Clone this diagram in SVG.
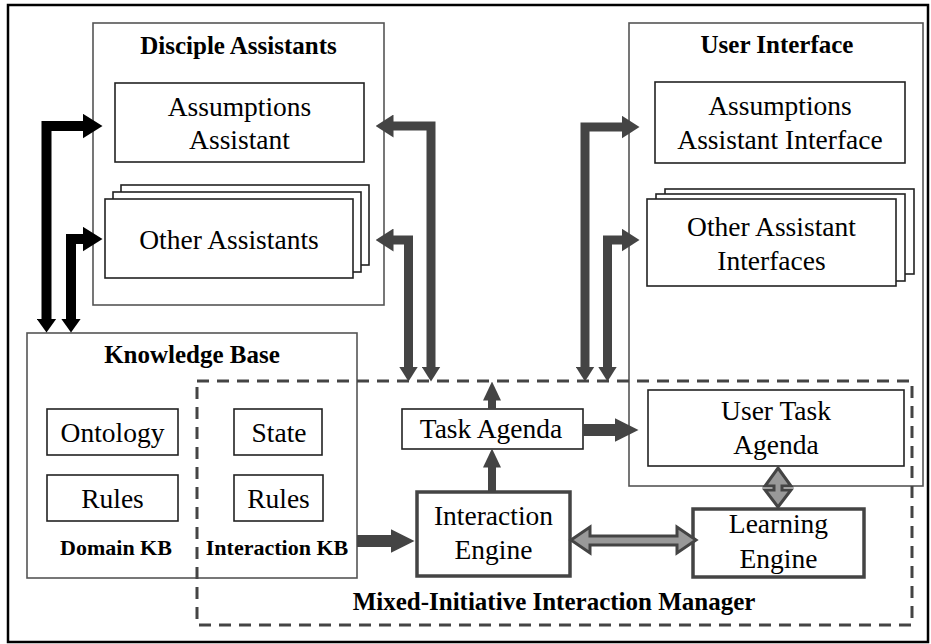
<svg xmlns="http://www.w3.org/2000/svg" width="931" height="644" viewBox="0 0 931 644">
<style>
.t{font-family:"Liberation Serif","Times New Roman",serif;font-size:27.5px;fill:#000;text-anchor:middle}
.b{font-family:"Liberation Serif","Times New Roman",serif;font-size:25px;font-weight:bold;fill:#000;text-anchor:middle}
.bs{font-family:"Liberation Serif","Times New Roman",serif;font-size:22px;font-weight:bold;fill:#000;text-anchor:middle}
.cont{fill:none;stroke:#555;stroke-width:1.6}
.box{fill:#fff;stroke:#222;stroke-width:1.6}
.eng{fill:#fff;stroke:#444;stroke-width:3.5}
.dash{fill:none;stroke:#444;stroke-width:3;stroke-dasharray:12 8}
.ab{fill:none;stroke:#000;stroke-width:10;stroke-linejoin:miter}
.ag{fill:none;stroke:#444;stroke-width:9;stroke-linejoin:miter}
.ag12{fill:none;stroke:#444;stroke-width:12}
.ag8{fill:none;stroke:#444;stroke-width:8}
.dbl{fill:#999;stroke:#444;stroke-width:3;stroke-linejoin:miter}
</style>
<defs>
<marker id="hbBig" markerUnits="userSpaceOnUse" viewBox="0 0 20 25" refX="0.5" refY="12.5" markerWidth="20" markerHeight="25" orient="auto-start-reverse"><path d="M0,0 L20,12.5 L0,25 Z" fill="#000"/></marker>
<marker id="hbSm" markerUnits="userSpaceOnUse" viewBox="0 0 14 20" refX="0.5" refY="10" markerWidth="14" markerHeight="20" orient="auto-start-reverse"><path d="M0,0 L14,10 L0,20 Z" fill="#000"/></marker>
<marker id="hgBig" markerUnits="userSpaceOnUse" viewBox="0 0 18 23" refX="0.5" refY="11.5" markerWidth="18" markerHeight="23" orient="auto-start-reverse"><path d="M0,0 L18,11.5 L0,23 Z" fill="#444"/></marker>
<marker id="hgSm" markerUnits="userSpaceOnUse" viewBox="0 0 15 19" refX="0.5" refY="9.5" markerWidth="15" markerHeight="19" orient="auto-start-reverse"><path d="M0,0 L15,9.5 L0,19 Z" fill="#444"/></marker>
<marker id="hgWide" markerUnits="userSpaceOnUse" viewBox="0 0 24 24" refX="0.5" refY="12" markerWidth="24" markerHeight="24" orient="auto-start-reverse"><path d="M0,0 L24,12 L0,24 Z" fill="#444"/></marker>
<marker id="hgUp" markerUnits="userSpaceOnUse" viewBox="0 0 19 18" refX="0.5" refY="9" markerWidth="19" markerHeight="18" orient="auto-start-reverse"><path d="M0,0 L19,9 L0,18 Z" fill="#444"/></marker>
</defs>

<rect x="8" y="5" width="920" height="637" fill="#fff" stroke="#000" stroke-width="2.5"/>

<g id="disciple-assistants">
<rect class="cont" x="93" y="23" width="291" height="282"/>
<text class="b" x="238.5" y="54">Disciple Assistants</text>
</g>
<g id="user-interface">
<rect class="cont" x="629" y="23" width="294" height="463"/>
<text class="b" x="777" y="53">User Interface</text>
</g>
<g id="knowledge-base">
<rect class="cont" x="27" y="333" width="330" height="245" stroke="#444"/>
<text class="b" x="192" y="363">Knowledge Base</text>
<text class="bs" x="116" y="555">Domain KB</text>
<text class="bs" x="277" y="555">Interaction KB</text>
</g>
<g id="interaction-manager">
<rect class="dash" x="197" y="381" width="715" height="244"/>
<text class="b" x="554" y="610">Mixed-Initiative Interaction Manager</text>
</g>

<g id="assumptions-assistant">
<rect class="box" x="115" y="83" width="249" height="79"/>
<text class="t" x="239.5" y="116">Assumptions</text>
<text class="t" x="239.5" y="149">Assistant</text>
</g>
<g id="other-assistants">
<rect class="box" x="121" y="185" width="248" height="80"/>
<rect class="box" x="113" y="192" width="248" height="80"/>
<rect class="box" x="105" y="199" width="248" height="79"/>
<text class="t" x="229" y="249">Other Assistants</text>
</g>
<g id="assumptions-assistant-interface">
<rect class="box" x="655" y="82" width="250" height="81"/>
<text class="t" x="780" y="115">Assumptions</text>
<text class="t" x="780" y="149">Assistant Interface</text>
</g>
<g id="other-assistant-interfaces">
<rect class="box" x="665" y="189" width="249" height="85"/>
<rect class="box" x="656" y="194" width="249" height="87"/>
<rect class="box" x="647" y="199" width="249" height="87"/>
<text class="t" x="771.5" y="236">Other Assistant</text>
<text class="t" x="771.5" y="270">Interfaces</text>
</g>
<g id="ontology">
<rect class="box" x="47" y="409" width="131" height="46"/>
<text class="t" x="112.5" y="442">Ontology</text>
</g>
<g id="domain-rules">
<rect class="box" x="47" y="475" width="131" height="46"/>
<text class="t" x="112.5" y="508">Rules</text>
</g>
<g id="state">
<rect class="box" x="234" y="409" width="88" height="46"/>
<text class="t" x="279" y="442">State</text>
</g>
<g id="interaction-rules">
<rect class="box" x="234" y="475" width="89" height="46"/>
<text class="t" x="278.5" y="508">Rules</text>
</g>
<g id="task-agenda">
<rect class="box" x="402" y="409" width="181" height="40"/>
<text class="t" x="491" y="438">Task Agenda</text>
</g>
<g id="user-task-agenda">
<rect class="box" x="648" y="390" width="256" height="76"/>
<text class="t" x="776" y="420">User Task</text>
<text class="t" x="776" y="454">Agenda</text>
</g>
<g id="interaction-engine">
<rect class="eng" x="417" y="492" width="153" height="84"/>
<text class="t" x="493.5" y="525">Interaction</text>
<text class="t" x="493.5" y="559">Engine</text>
</g>
<g id="learning-engine">
<rect class="eng" x="693" y="509" width="171" height="68"/>
<text class="t" x="778.5" y="533">Learning</text>
<text class="t" x="778.5" y="568">Engine</text>
</g>

<g id="connectors">
<path class="ab" d="M46.5,319 V126 H83" marker-start="url(#hbSm)" marker-end="url(#hbBig)"/>
<path class="ab" d="M71,319 V239 H83" marker-start="url(#hbSm)" marker-end="url(#hbBig)"/>
<path class="ag" d="M431,367 V126 H393" marker-start="url(#hgSm)" marker-end="url(#hgBig)"/>
<path class="ag" d="M408.5,367 V240 H393" marker-start="url(#hgSm)" marker-end="url(#hgBig)"/>
<path class="ag" d="M585,367 V127 H622" marker-start="url(#hgSm)" marker-end="url(#hgBig)"/>
<path class="ag" d="M607.5,367 V240 H622" marker-start="url(#hgSm)" marker-end="url(#hgBig)"/>
<path class="ag12" d="M583,430 H615" marker-end="url(#hgWide)"/>
<path class="ag8" d="M492,409 V400" marker-end="url(#hgUp)"/>
<path class="ag8" d="M492,492 V467" marker-end="url(#hgUp)"/>
<path class="ag12" d="M357,541 H391" marker-end="url(#hgWide)"/>
<polygon class="dbl" points="571,540 590,527 590,536 677,536 677,527 696,540 677,553 677,545 590,545 590,553"/>
<polygon class="dbl" points="778,468 791,486 782,486 782,490 791,490 778,507 765,490 774,490 774,486 765,486"/>
</g>
</svg>
